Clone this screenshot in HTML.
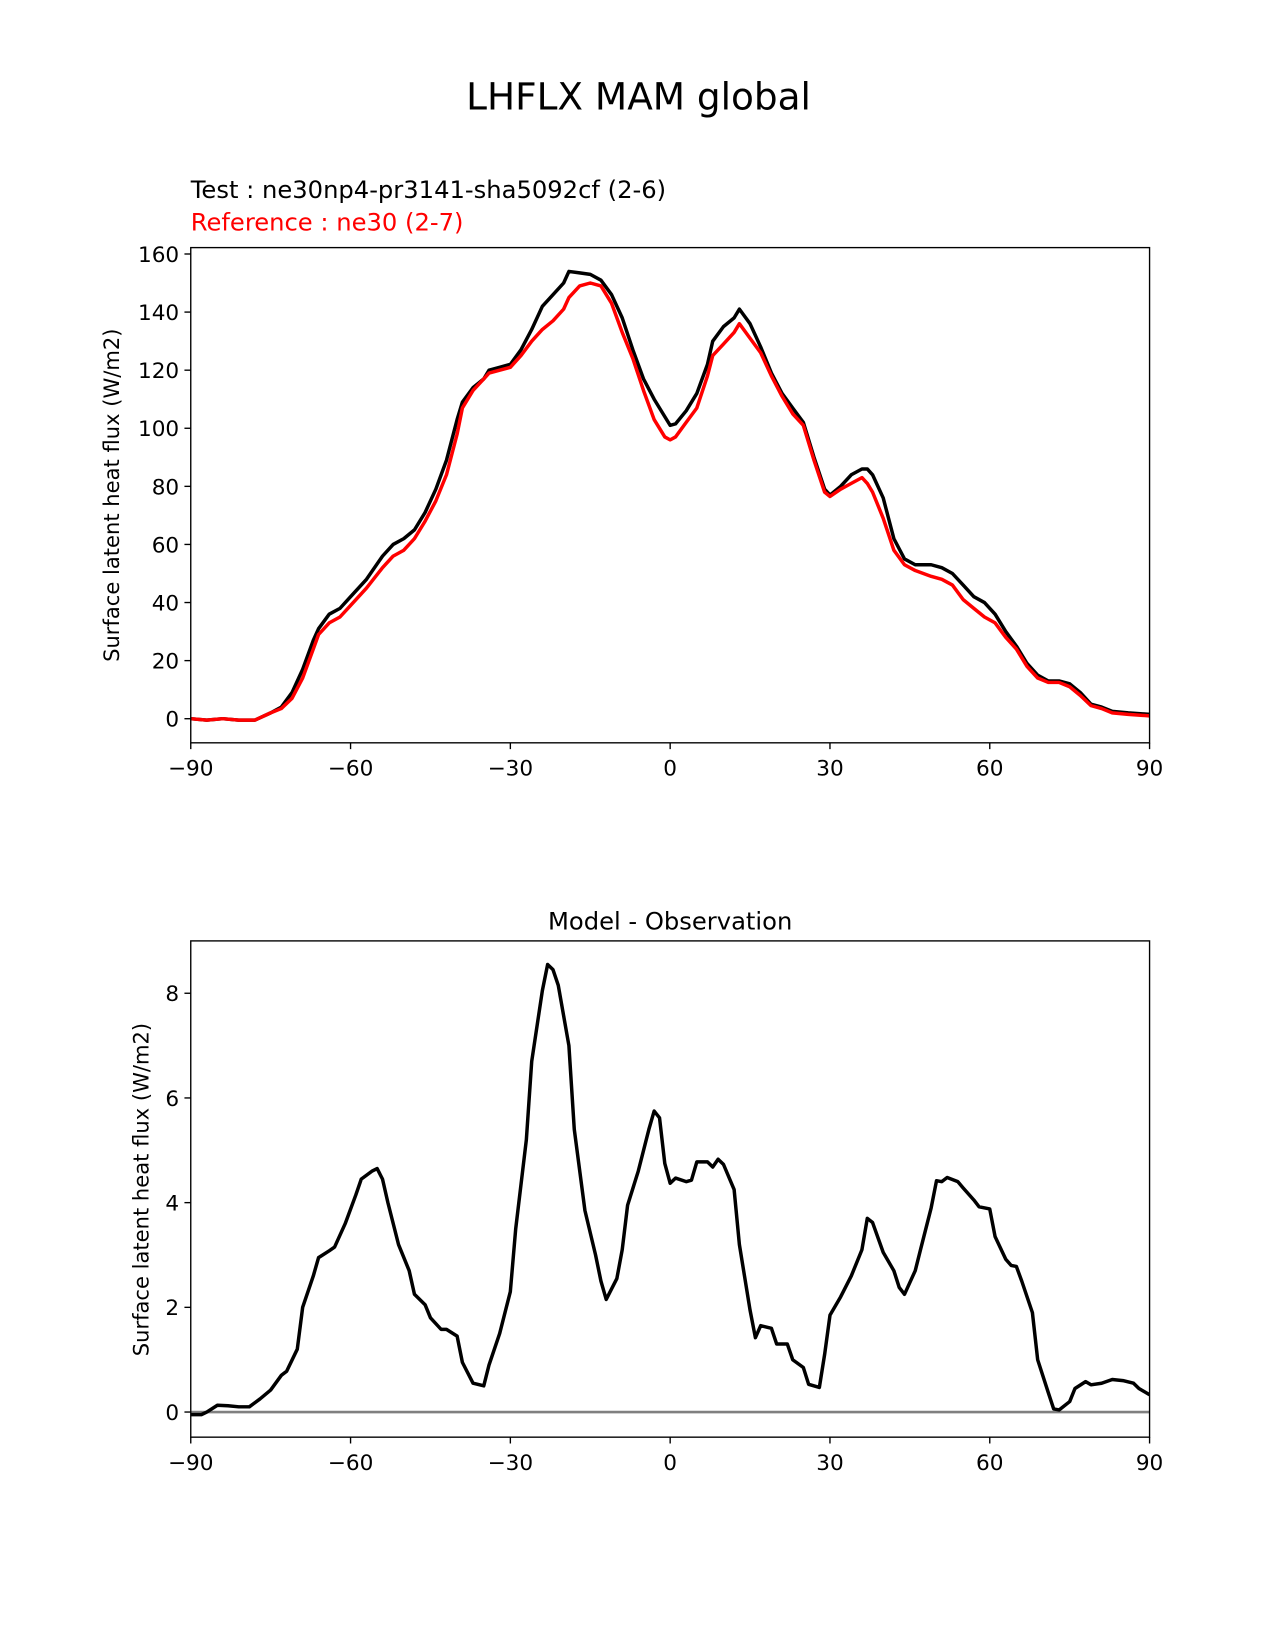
<!DOCTYPE html>
<html><head><meta charset="utf-8">
<style>
html,body{margin:0;padding:0;background:#fff;}
svg{display:block;font-family:"DejaVu Sans","Liberation Sans",sans-serif;}
</style></head>
<body>
<svg id="chart" width="1275" height="1650" viewBox="0 0 1210 1566">
<text x="606" y="104" font-size="35.5" text-anchor="middle">LHFLX MAM global</text>
<text x="181" y="188" font-size="23">Test : ne30np4-pr3141-sha5092cf (2-6)</text>
<text x="181" y="219" font-size="23" fill="#ff0000">Reference : ne30 (2-7)</text>
<text x="636" y="882" font-size="23" text-anchor="middle">Model - Observation</text>
<text transform="translate(113,470) rotate(-90)" font-size="20" text-anchor="middle">Surface latent heat flux (W/m2)</text>
<text transform="translate(141,1129) rotate(-90)" font-size="20" text-anchor="middle">Surface latent heat flux (W/m2)</text>
<g id="top"></g>
<g id="bot"></g>
</svg>
<script>
const topLat=[-90,-87,-84,-81,-78,-75,-73,-71,-69,-67,-66,-64,-62,-60,-57,-54,-52,-50,-48,-46,-44,-42,-40,-39,-37,-35,-34,-32,-30,-28,-26,-24,-22,-20,-19,-17,-15,-13,-11,-9,-7,-5,-3,-1,0,1,3,5,7,8,10,12,13,15,17,19,21,23,25,27,29,30,32,34,36,37,38,40,42,44,46,49,51,53,55,57,59,61,63,65,67,69,71,73,75,77,79,81,83,86,90];
const testVals=[0,-0.5,0,-0.5,-0.5,2,4,9,17,27,31,36,38,42,48,56,60,62,65,71,79,89,103,109,114,117,120,121,122,127,134,142,146,150,154,153.5,153,151,146,138,127,117,110,104,101,101.5,106,112,122,130,135,138,141,136,128,119,112,107,102,90,79,77,80,84,86,86,84,76,62,55,53,53,52,50,46,42,40,36,30,25,19,15,13,13,12,9,5,4,2.5,2,1.5];
const refVals=[0,-0.5,0,-0.5,-0.5,2,3.5,7,14,24,29,33,35,39,45,52,56,58,62,68,75,84,98,107,113,117,119,120,121,125,130,134,137,141,145,149,150,149,143,133,124,113,103,97,96,97,102,107,118,125,129,133,136,131,126,118,111,105,101,89,78,76.5,79,81,83,81,78,69,58,53,51,49,48,46,41,38,35,33,28,24,18,14,12.5,12.5,11,8,4.5,3.5,2,1.5,1];
const botLat=[-90,-88,-87,-85,-83,-81,-79,-77,-75,-73,-72,-70,-69,-67,-66,-64,-63,-61,-59,-58,-56,-55,-54,-53,-51,-49,-48,-46,-45,-43,-42,-40,-39,-37,-35,-34,-32,-30,-29,-27,-26,-24,-23,-22,-21,-19,-18,-16,-14,-13,-12,-10,-9,-8,-6,-4,-3,-2,-1,0,1,3,4,5,7,8,9,10,12,13,15,16,17,19,20,22,23,25,26,28,29,30,32,34,36,37,38,40,42,43,44,46,47,49,50,51,52,54,55,57,58,60,61,63,64,65,66,68,69,71,72,73,75,76,78,79,81,83,85,87,88,90];
const diffVals=[-0.05,-0.05,0,0.13,0.12,0.1,0.1,0.25,0.42,0.7,0.78,1.2,2.0,2.6,2.95,3.08,3.15,3.6,4.15,4.45,4.6,4.65,4.45,4.0,3.2,2.7,2.25,2.05,1.8,1.58,1.58,1.45,0.95,0.55,0.5,0.9,1.5,2.3,3.5,5.2,6.7,8.05,8.55,8.45,8.15,7.0,5.4,3.85,3.0,2.5,2.15,2.55,3.1,3.95,4.6,5.4,5.75,5.62,4.75,4.37,4.47,4.4,4.43,4.78,4.78,4.68,4.83,4.73,4.25,3.2,1.95,1.42,1.65,1.6,1.3,1.3,1.0,0.85,0.53,0.47,1.1,1.85,2.2,2.6,3.1,3.7,3.62,3.05,2.7,2.38,2.25,2.7,3.1,3.9,4.42,4.4,4.48,4.4,4.28,4.05,3.92,3.88,3.35,2.92,2.8,2.78,2.5,1.9,1.0,0.37,0.06,0.04,0.2,0.45,0.58,0.52,0.55,0.62,0.6,0.55,0.45,0.33];
const xTicks=[-90,-60,-30,0,30,60,90];
const xTickLabels=["\u221290","\u221260","\u221230","0","30","60","90"];
const topYTicks=[0,20,40,60,80,100,120,140,160];
const botYTicks=[0,2,4,6,8];

const NS="http://www.w3.org/2000/svg";
function mk(parent,tag,attrs){const e=document.createElementNS(NS,tag);for(const k in attrs)e.setAttribute(k,attrs[k]);parent.appendChild(e);return e;}

function panel(g,top,bottom,ymin,ymax,yTicks,series,zeroLine){
  const L=181,R=1091;
  const sx=v=>L+(v+90)/180*(R-L);
  const sy=v=>bottom-(v-ymin)/(ymax-ymin)*(bottom-top);
  const clip=mk(g,'clipPath',{id:'c'+top});mk(clip,'rect',{x:L,y:top,width:R-L,height:bottom-top});
  if(zeroLine){const z=mk(g,'line',{x1:L,x2:R,y1:sy(0),y2:sy(0),stroke:'#808080','stroke-width':2.5});
    
    }
  series.forEach(s=>{
    const d=s.lat.map((la,i)=>(i?'L':'M')+sx(la).toFixed(1)+','+sy(s.vals[i]).toFixed(1)).join('');
    const p=mk(g,'path',{d:d,fill:'none',stroke:s.color,'stroke-width':3.3,'stroke-linejoin':'round','clip-path':'url(#c'+top+')'});
    
    
  });
  const fr=mk(g,'rect',{x:L,y:top,width:R-L,height:bottom-top,fill:'none',stroke:'#000','stroke-width':1.3});
  
  
  xTicks.forEach((t,i)=>{
    mk(g,'line',{x1:sx(t),x2:sx(t),y1:bottom,y2:bottom+6,stroke:'#000','stroke-width':1.3});
    const tx=mk(g,'text',{x:sx(t),y:bottom+31,'font-size':20.5,'text-anchor':'middle'});tx.textContent=xTickLabels[i];
    
    
  });
  yTicks.forEach(t=>{
    mk(g,'line',{x1:L-6,x2:L,y1:sy(t),y2:sy(t),stroke:'#000','stroke-width':1.3});
    const tx=mk(g,'text',{x:L-11,y:sy(t)+7.5,'font-size':20.5,'text-anchor':'end'});tx.textContent=t;
    
    
  });
}
const tg=document.getElementById('top'),bg=document.getElementById('bot');
panel(tg,235,705,-8.3,162.2,topYTicks,[
  {lat:topLat,vals:testVals,color:'#000',name:'test-line'},
  {lat:topLat,vals:refVals,color:'#ff0000',name:'reference-line'}],false);
panel(bg,893,1364,-0.48,9.0,botYTicks,[
  {lat:botLat,vals:diffVals,color:'#000',name:'difference-line'}],true);
</script>
</body></html>
